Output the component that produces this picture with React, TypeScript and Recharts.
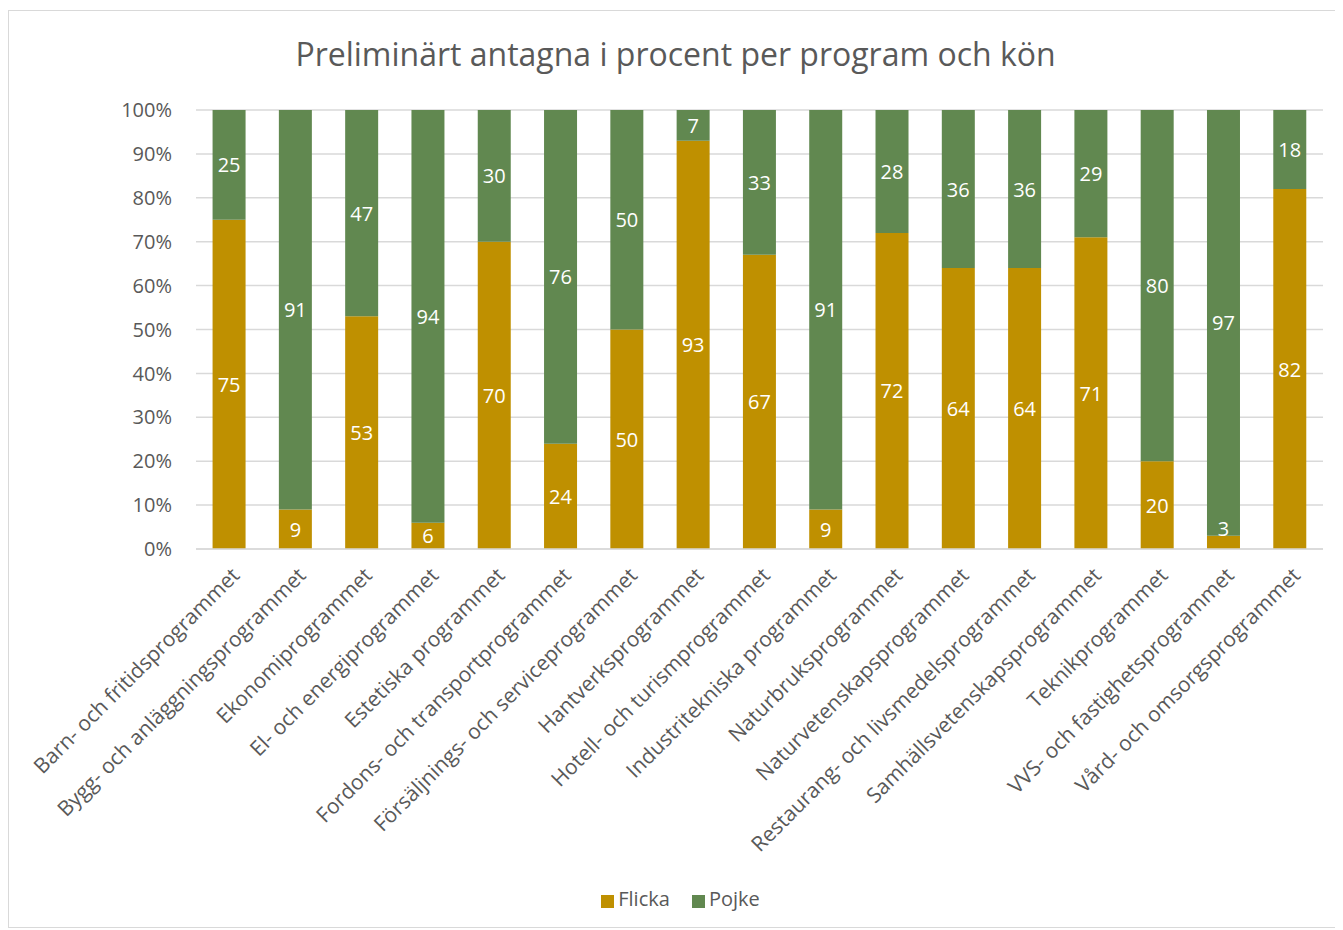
import { BarChart, Bar, XAxis, YAxis, CartesianGrid, Legend, LabelList } from "recharts";

const programs = [
  "Barn- och fritidsprogrammet",
  "Bygg- och anläggningsprogrammet",
  "Ekonomiprogrammet",
  "El- och energiprogrammet",
  "Estetiska programmet",
  "Fordons- och transportprogrammet",
  "Försäljnings- och serviceprogrammet",
  "Hantverksprogrammet",
  "Hotell- och turismprogrammet",
  "Industritekniska programmet",
  "Naturbruksprogrammet",
  "Naturvetenskapsprogrammet",
  "Restaurang- och livsmedelsprogrammet",
  "Samhällsvetenskapsprogrammet",
  "Teknikprogrammet",
  "VVS- och fastighetsprogrammet",
  "Vård- och omsorgsprogrammet",
];

const flicka = [75, 9, 53, 6, 70, 24, 50, 93, 67, 9, 72, 64, 64, 71, 20, 3, 82];
const pojke = [25, 91, 47, 94, 30, 76, 50, 7, 33, 91, 28, 36, 36, 29, 80, 97, 18];

const yTicks = [0, 10, 20, 30, 40, 50, 60, 70, 80, 90, 100];

const GOLD = "#BF9000";
const GREEN = "#618850";
const TEXT = "#595959";
const GRID = "#D9D9D9";
const FONT = "'Open Sans', sans-serif";

const data = programs.map((name, i) => ({ name, Flicka: flicka[i], Pojke: pojke[i] }));

function ProgramTick({ x, y, payload }: any) {
  const tx = x + 1;
  const ty = y + 9;
  return (
    <text
      x={tx}
      y={ty}
      dy="0.72em"
      textAnchor="end"
      fill={TEXT}
      fontSize={21}
      fontFamily={FONT}
      transform={`rotate(-45, ${tx}, ${ty})`}
    >
      {payload.value}
    </text>
  );
}

// segment labels; a very thin segment gets its label just above it, like Excel does
function SegmentLabel({ x, y, width, height, value }: any) {
  const cx = x + width / 2;
  const cy = height < 20 && value < 5 ? y - 7 : y + height / 2;
  return (
    <text
      x={cx}
      y={cy}
      textAnchor="middle"
      dominantBaseline="central"
      fill="#FFFFFF"
      fontSize={20}
      fontFamily={FONT}
    >
      {value}
    </text>
  );
}

export default function App() {
  return (
    <div
      style={{
        position: "relative",
        marginTop: 2,
        width: 1333,
        height: 916,
        border: `1px solid ${GRID}`,
        fontFamily: FONT,
      }}
    >
      <div
        style={{
          position: "absolute",
          top: 21,
          left: 0,
          width: "100%",
          textAlign: "center",
          fontSize: 32,
          color: TEXT,
        }}
      >
        Preliminärt antagna i procent per program och kön
      </div>
      <BarChart
        width={1333}
        height={916}
        data={data}
        margin={{ top: 99, right: 19, bottom: 0, left: 0 }}
        barCategoryGap="25%"
      >
        <CartesianGrid vertical={false} stroke={GRID} strokeWidth={1.5} />
        <YAxis
          width={187}
          domain={[0, 100]}
          ticks={yTicks}
          tickFormatter={(v) => `${v}%`}
          axisLine={false}
          tickLine={false}
          tickSize={0}
          tickMargin={24}
          tick={{ fill: TEXT, fontSize: 20, fontFamily: FONT }}
        />
        <XAxis
          dataKey="name"
          interval={0}
          height={378}
          axisLine={{ stroke: GRID, strokeWidth: 1.5 }}
          tickLine={false}
          tick={<ProgramTick />}
        />
        <Legend
          layout="horizontal"
          verticalAlign="middle"
          align="center"
          iconType="square"
          iconSize={13}
          wrapperStyle={{ top: 874, left: 16, width: 1333 }}
          formatter={(value) => (
            <span style={{ color: TEXT, fontSize: 20, fontFamily: FONT, paddingRight: 12 }}>{value}</span>
          )}
        />
        <Bar dataKey="Flicka" stackId="a" fill={GOLD} isAnimationActive={false}>
          <LabelList dataKey="Flicka" content={<SegmentLabel />} />
        </Bar>
        <Bar dataKey="Pojke" stackId="a" fill={GREEN} isAnimationActive={false}>
          <LabelList dataKey="Pojke" content={<SegmentLabel />} />
        </Bar>
      </BarChart>
    </div>
  );
}
